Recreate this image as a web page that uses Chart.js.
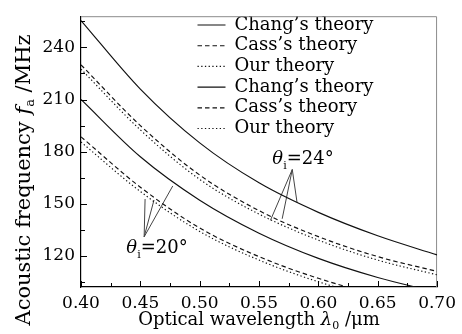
<!DOCTYPE html>
<html><head><meta charset="utf-8">
<script src="https://cdn.jsdelivr.net/npm/chart.js@4.4.1/dist/chart.umd.min.js"></script>
<style>html,body{margin:0;padding:0;background:#fff}#wrap{width:462px;height:334px}</style>
</head><body><div id="wrap"><canvas id="c" width="462" height="334"></canvas></div>
<script>
// ---- data ----
const wavelengths   = [0.40, 0.45, 0.50, 0.55, 0.60, 0.65, 0.70];
const changTheta24  = [255.5, 216, 185, 162, 145, 131.5, 120.5];
const cassTheta24   = [230, 195, 166.5, 146, 131, 119.5, 111];
const ourTheta24    = [227.5, 192.5, 164, 144, 129, 117.5, 109];
const changTheta20  = [210, 177, 152, 133, 118.5, 107.5, 99];
const cassTheta20   = [188.5, 159.5, 136, 119.5, 107, 97.5, 90.5];
const ourTheta20    = [185.5, 157, 134, 117.5, 105, 95.5, 88.5];
const seriesNames   = ["Chang’s theory", "Cass’s theory", "Our theory", "Chang’s theory", "Cass’s theory", "Our theory"];
const xMajorTicks   = [0.40, 0.45, 0.50, 0.55, 0.60, 0.65, 0.70];
const xTickLabels   = ["0.40", "0.45", "0.50", "0.55", "0.60", "0.65", "0.70"];
const xMinorTicks   = [0.425, 0.475, 0.525, 0.575, 0.625, 0.675];
const yMajorTicks   = [120, 150, 180, 210, 240];
const yTickLabels   = ["120", "150", "180", "210", "240"];
const yMinorTicks   = [105, 135, 165, 195, 225, 255];
const angleLabels   = ["24°", "20°"];
// leader lines (apex, three ends) in data units
const leader24Apex  = [0.578, 169.7];
const leader24Ends  = [[0.5596, 140.4], [0.5695, 141.3], [0.582, 150.8]];
const leader20Apex  = [0.4532, 130.9];
const leader20Ends  = [[0.454, 152.7], [0.4615, 152.1], [0.4773, 160.2]];
// label anchors (data units: left x, baseline y)
const label24Pos    = [0.5612, 172.7];
const label20Pos    = [0.4382, 121.7];

// ---- styles ----
const FONT = "'DejaVu Serif', serif";
const dashStyles = [[], [4.5, 3], [1.3, 2.4], [], [4.5, 3], [1.3, 2.4]];
const allSeries = [changTheta24, cassTheta24, ourTheta24, changTheta20, cassTheta20, ourTheta20];

function pts(xs, ys){ return xs.map((x,i)=>({x, y: ys[i]})); }
function leaderData(apex, ends){
  const d = [];
  ends.forEach((e,i)=>{ if(i) d.push({x:e[0], y:null}); d.push({x:apex[0], y:apex[1]}); d.push({x:e[0], y:e[1]}); });
  return d;
}

const datasets = allSeries.map((s,i)=>({
  label: seriesNames[i],
  data: pts(wavelengths, s),
  borderColor: '#111', backgroundColor: '#111',
  borderWidth: 1.15, borderDash: dashStyles[i],
  pointRadius: 0, pointStyle: 'line',
  cubicInterpolationMode: 'monotone', fill: false
}));
[[leader24Apex, leader24Ends],[leader20Apex, leader20Ends]].forEach(([a,e])=>{
  datasets.push({label:'', data: leaderData(a,e), borderColor:'#444', borderWidth:1,
    pointRadius:0, spanGaps:false, tension:0, fill:false});
});

function drawPieces(ctx, pieces, x, y){
  pieces.forEach(p=>{
    ctx.font = p.font;
    ctx.fillText(p.t, x, y + (p.dy||0));
    x += ctx.measureText(p.t).width;
  });
}
function piecesWidth(ctx, pieces){
  let w = 0; pieces.forEach(p=>{ ctx.font = p.font; w += ctx.measureText(p.t).width; }); return w;
}

const decor = {
  id: 'decor',
  afterLayout(chart){
    const l = chart.legend; if(!l) return;
    const h = l.height;
    l.left = 194.8; l.right = l.left + l.width;
    l.top = 13.3; l.bottom = l.top + h;
  },
  beforeDatasetsDraw(chart){
    const {ctx, chartArea:a} = chart;
    ctx.save(); ctx.strokeStyle = '#8c8c8c'; ctx.lineWidth = 1;
    ctx.beginPath(); ctx.moveTo(a.left, a.top + 0.5); ctx.lineTo(a.right - 0.5, a.top + 0.5); ctx.lineTo(a.right - 0.5, a.bottom); ctx.stroke();
    ctx.restore();
  },
  afterDraw(chart){
    const {ctx, chartArea:a, scales:{x, y}} = chart;
    ctx.save();
    ctx.strokeStyle = '#000'; ctx.lineWidth = 1;
    x.ticks.forEach(t=>{
      const px = Math.round(x.getPixelForValue(t.value)) + 0.5;
      const len = t.label ? 6 : 4;
      ctx.beginPath(); ctx.moveTo(px, a.bottom); ctx.lineTo(px, a.bottom - len); ctx.stroke();
    });
    y.ticks.forEach(t=>{
      const py = Math.round(y.getPixelForValue(t.value)) + 0.5;
      const len = t.label ? 6 : 4;
      ctx.beginPath(); ctx.moveTo(a.left, py); ctx.lineTo(a.left + len, py); ctx.stroke();
    });
    ctx.fillStyle = '#000'; ctx.textBaseline = 'alphabetic'; ctx.textAlign = 'left';
    // x title
    const xt = [
      {t:'Optical wavelength ', font:`18px ${FONT}`},
      {t:'λ', font:`italic 18px ${FONT}`},
      {t:'0', font:`11px ${FONT}`, dy:4},
      {t:' /μm', font:`18px ${FONT}`}
    ];
    const xw = piecesWidth(ctx, xt);
    drawPieces(ctx, xt, (a.left + a.right)/2 - xw/2, 325);
    // y title
    const yt = [
      {t:'Acoustic frequency ', font:`21px ${FONT}`},
      {t:'f', font:`italic 21px ${FONT}`},
      {t:'a', font:`13px ${FONT}`, dy:4},
      {t:' /MHz', font:`21px ${FONT}`}
    ];
    const yw = piecesWidth(ctx, yt);
    ctx.save(); ctx.translate(30, 180); ctx.rotate(-Math.PI/2);
    drawPieces(ctx, yt, -yw/2, 0);
    ctx.restore();
    // angle labels
    [[label24Pos, angleLabels[0]], [label20Pos, angleLabels[1]]].forEach(([p, txt])=>{
      const px = x.getPixelForValue(p[0]), py = y.getPixelForValue(p[1]);
      drawPieces(ctx, [
        {t:'θ', font:`italic 18px ${FONT}`},
        {t:'i', font:`11px ${FONT}`, dy:5},
        {t:'=' + txt, font:`18px ${FONT}`}
      ], px, py);
    });
    ctx.restore();
  }
};

new Chart(document.getElementById('c'), {
  type: 'line',
  data: { datasets },
  options: {
    responsive: false, animation: false, devicePixelRatio: 1,
    layout: { padding: { left: 0, top: 12, right: 20, bottom: 0 } },
    plugins: {
      legend: {
        position: 'chartArea', align: 'start',
        labels: {
          usePointStyle: true, pointStyleWidth: 28, boxHeight: 18,
          font: { family: FONT, size: 18 }, color: '#000', padding: 2.7,
          filter: item => item.datasetIndex < 6,
          generateLabels: chart => Chart.defaults.plugins.legend.labels.generateLabels(chart).map(l => {
            const ds = chart.data.datasets[l.datasetIndex];
            return Object.assign(l, { lineDash: ds.borderDash || [], lineWidth: ds.borderWidth, strokeStyle: ds.borderColor, pointStyle: 'line' });
          })
        }
      },
      tooltip: { enabled: false }
    },
    scales: {
      x: {
        type: 'linear', min: 0.40, max: 0.70,
        afterBuildTicks: s => { s.ticks = xMajorTicks.concat(xMinorTicks).sort((p,q)=>p-q).map(v=>({value:v})); },
        afterFit: s => { s.height = 47; },
        ticks: {
          autoSkip: false, maxRotation: 0, padding: 6, color: '#000',
          font: { family: FONT, size: 17 },
          callback: v => { const i = xMajorTicks.findIndex(m => Math.abs(m - v) < 1e-6); return i >= 0 ? xTickLabels[i] : ''; }
        },
        grid: { drawOnChartArea: false, drawTicks: false },
        border: { display: true, color: '#000', width: 1.2 }
      },
      y: {
        type: 'linear', min: 102, max: 258,
        afterBuildTicks: s => { s.ticks = yMajorTicks.concat(yMinorTicks).sort((p,q)=>p-q).map(v=>({value:v})); },
        afterFit: s => { s.width = 81; },
        ticks: {
          autoSkip: false, padding: 6, color: '#000',
          font: { family: FONT, size: 17 },
          callback: v => { const i = yMajorTicks.indexOf(v); return i >= 0 ? yTickLabels[i] : ''; }
        },
        grid: { drawOnChartArea: false, drawTicks: false },
        border: { display: true, color: '#000', width: 1.2 }
      }
    }
  },
  plugins: [decor]
});
</script>
</body></html>
